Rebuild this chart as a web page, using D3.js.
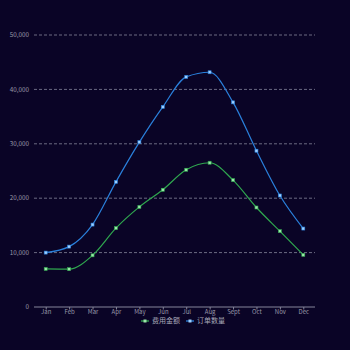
<!DOCTYPE html>
<html><head><meta charset="utf-8">
<script src="https://cdn.jsdelivr.net/npm/d3@7"></script>
<style>html,body{margin:0;padding:0;background:#0a0426;}</style>
</head><body>
<svg id="c" width="350" height="350"></svg>
<script>
const months = ["Jan","Feb","Mar","Apr","May","Jun","Jul","Aug","Sept","Oct","Nov","Dec"];
const seriesNames = ["费用金额","订单数量"];
const costValues = [7000,6950,9500,14500,18400,21550,25230,26520,23330,18290,13940,9580];
const orderValues = [10000,11100,15150,23000,30300,36780,42300,43150,37620,28730,20500,14420];
const yTicks = [0,10000,20000,30000,40000,50000];
const colors = ["#2fa84f","#2a80dc"];

const svg = d3.select("#c");
svg.append("rect").attr("width",350).attr("height",350).attr("fill","#0a0426");
const x = d3.scalePoint().domain(months).range([34,315]).padding(0.5);
const y = d3.scaleLinear().domain([0,50000]).range([307,35]);
const font = "'Noto Sans CJK SC','Noto Sans',sans-serif";

// grid
svg.append("g").selectAll("line").data(yTicks.slice(1)).join("line")
  .attr("x1",34).attr("x2",315).attr("y1",d=>y(d)).attr("y2",d=>y(d))
  .attr("stroke","#85859a").attr("stroke-width",0.8).attr("stroke-dasharray","3,2");
// y labels
svg.append("g").selectAll("text").data(yTicks).join("text")
  .attr("x",29).attr("y",d=>y(d)).attr("dy","0.35em").attr("text-anchor","end")
  .attr("font-family",font).attr("font-size",6.3).attr("fill","#9a9aab")
  .text(d=>d3.format(",")(d));
// x axis
const xa = svg.append("g").attr("transform","translate(0,307)")
  .call(d3.axisBottom(x).tickSize(2.5).tickPadding(0.5));
xa.select(".domain").attr("stroke","#85859a").attr("d","M34,0H315");
xa.selectAll(".tick line").attr("stroke","#85859a");
xa.selectAll("text").attr("font-family",font).attr("font-size",6).attr("fill","#9a9aab");

const line = d3.line().x((d,i)=>x(months[i])).y(d=>y(d)).curve(d3.curveMonotoneX);
[costValues,orderValues].forEach((vals,k)=>{
  svg.append("path").datum(vals).attr("d",line).attr("fill","none")
    .attr("stroke",colors[k]).attr("stroke-width",1.2);
  svg.append("g").selectAll("rect").data(vals).join("rect")
    .attr("x",(d,i)=>x(months[i])-1.5).attr("y",d=>y(d)-1.5)
    .attr("width",3).attr("height",3)
    .attr("fill",k===0?"#9be8a8":"#9fd0ff").attr("stroke",colors[k]).attr("stroke-width",0.6);
});

// legend
const lg = svg.append("g");
const legX = [141,186];
seriesNames.forEach((n,k)=>{
  lg.append("line").attr("x1",legX[k]).attr("x2",legX[k]+8).attr("y1",321).attr("y2",321)
    .attr("stroke",colors[k]).attr("stroke-width",1.3);
  lg.append("rect").attr("x",legX[k]+2.5).attr("y",319.5).attr("width",3).attr("height",3)
    .attr("fill",k===0?"#9be8a8":"#9fd0ff");
  lg.append("text").attr("x",legX[k]+11).attr("y",321).attr("dy","0.35em")
    .attr("font-family",font).attr("font-size",7).attr("fill","#a8a8b8").text(n);
});
</script>
</body></html>
